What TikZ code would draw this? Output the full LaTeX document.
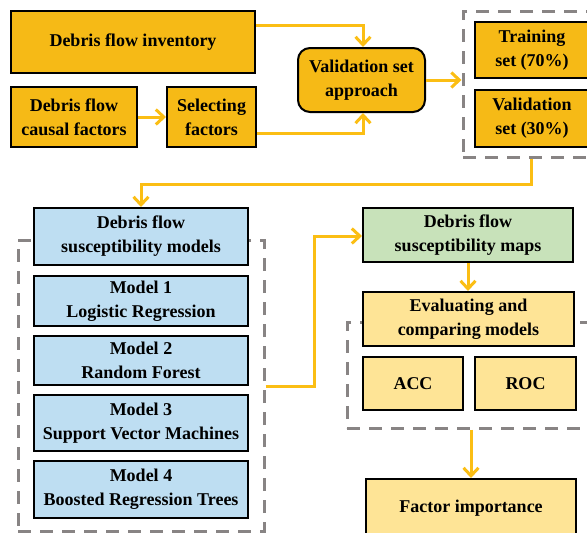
\documentclass[tikz,border=0pt]{standalone}
\usepackage{fontspec}
\setmainfont{Liberation Serif}
\usetikzlibrary{arrows.meta}
\definecolor{gold}{RGB}{246,186,22}
\definecolor{arrowgold}{RGB}{251,190,20}
\definecolor{paleblue}{RGB}{190,222,242}
\definecolor{palegreen}{RGB}{200,226,186}
\definecolor{paleyellow}{RGB}{254,228,150}
\definecolor{dashgray}{RGB}{136,132,132}
\tikzset{
  box/.style={draw=black, line width=2pt, inner sep=0pt, align=center,
    font=\fontsize{18}{24}\selectfont\bfseries},
  goldbox/.style={box, fill=gold},
  bluebox/.style={box, fill=paleblue},
  greenbox/.style={box, fill=palegreen},
  ybox/.style={box, fill=paleyellow},
  grpbox/.style={draw=dashgray, line width=3pt, dash pattern=on 13pt off 9pt, inner sep=0pt},
  arr/.style={draw=arrowgold, line width=3pt,
    -{Straight Barb[length=8pt,width=15pt,line width=3pt]}},
}
\begin{document}
\begin{tikzpicture}[x=1pt,y=-1pt]
\useasboundingbox (0,0) rectangle (587,533);
\clip (0,0) rectangle (587,533);

% dashed grouping frames (drawn first so the boxes cover them)
\node[grpbox, minimum width=138pt, minimum height=146pt] (grp1) at (532,84) {};
\node[grpbox, minimum width=246pt, minimum height=291pt] (grp2) at (141,385.5) {};
\node[grpbox, minimum width=246pt, minimum height=106pt] (grp3) at (470,375) {};

% data preparation
\node[goldbox, minimum width=244pt, minimum height=62pt] (inv) at (133,42) {Debris flow inventory};
\node[goldbox, minimum width=126pt, minimum height=60pt] (causal) at (74,117) {Debris flow\\causal factors};
\node[goldbox, minimum width=89pt, minimum height=60pt] (sel) at (211.5,117) {Selecting\\factors};
\node[goldbox, rounded corners=12pt, minimum width=127pt, minimum height=64pt] (val) at (361.5,80) {Validation set\\approach};
\node[goldbox, minimum width=114pt, minimum height=56pt] (train) at (532,50) {Training\\set (70\%)};
\node[goldbox, minimum width=114pt, minimum height=57pt] (vset) at (532,118.5) {Validation\\set (30\%)};

% models
\node[bluebox, minimum width=214pt, minimum height=57pt] (models) at (141,236.5) {Debris flow\\susceptibility models};
\node[bluebox, minimum width=214pt, minimum height=50pt] (m1) at (141,301) {Model 1\\Logistic Regression};
\node[bluebox, minimum width=214pt, minimum height=49pt] (m2) at (141,360.5) {Model 2\\Random Forest};
\node[bluebox, minimum width=214pt, minimum height=56pt] (m3) at (141,423) {Model 3\\Support Vector Machines};
\node[bluebox, minimum width=214pt, minimum height=57pt] (m4) at (141,489.5) {Model 4\\Boosted Regression Trees};

% maps and evaluation
\node[greenbox, minimum width=210pt, minimum height=54pt] (maps) at (468,235) {Debris flow\\susceptibility maps};
\node[ybox, minimum width=211pt, minimum height=54pt] (eval) at (468.5,319) {Evaluating and\\comparing models};
\node[ybox, minimum width=100pt, minimum height=53pt] (acc) at (413,383.5) {ACC};
\node[ybox, minimum width=101pt, minimum height=53pt] (roc) at (525.5,383.5) {ROC};
\node[ybox, minimum width=210pt, minimum height=58pt] (fi) at (471,508) {Factor importance};

% connectors
\draw[arr] (causal.east) -- (sel.west);
\draw[arr] ([yshift=17pt]inv.east) -| ([xshift=1.5pt]val.north);
\draw[arr] ([yshift=-16pt]sel.east) -| ([xshift=1.5pt]val.south);
\draw[arr] (val.east) -- (grp1.west |- val.east);
\draw[arr] ([xshift=-1pt]vset.south |- grp1.south) -- ++(0,26) -| (models.north);
\draw[arr] (grp2.east |- m2.south) -- ++(49,0) |- ([yshift=-1pt]maps.west);
\draw[arr] (maps.south) -- (maps.south |- eval.north);
\draw[arr] (fi.north |- grp3.south) -- (fi.north);
\end{tikzpicture}
\end{document}
